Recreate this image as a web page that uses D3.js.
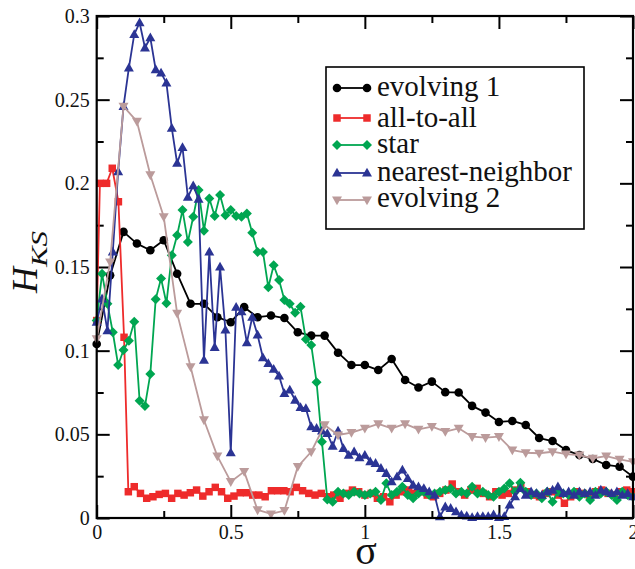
<!DOCTYPE html>
<html><head><meta charset="utf-8">
<script src="https://cdn.jsdelivr.net/npm/d3@7"></script>
<style>
body{margin:0;background:#fff}svg{display:block}
svg text{font-family:"Liberation Serif","Times New Roman",Tinos,"DejaVu Serif",serif !important}
</style>
</head><body>
<script>
// ---- data ----
const seriesNames = ["evolving 1","all-to-all","star","nearest-neighbor","evolving 2"];
const xTicks = [0,0.5,1,1.5,2];
const yTicks = [0,0.05,0.1,0.15,0.2,0.25,0.3];

const evolving1 = [0.104,0.145,0.171,0.164,0.16,0.166,0.146,0.128,0.128,0.12,0.117,0.126,0.12,0.121,0.1195,0.111,0.109,0.109,0.0988,0.0914,0.0914,0.0884,0.095,0.0825,0.078,0.0815,0.0752,0.075,0.067,0.063,0.0574,0.058,0.0556,0.0478,0.046,0.0406,0.0376,0.0353,0.0317,0.0307,0.0247];
const evolving2 = [0.107,0.153,0.246,0.237,0.205,0.18,0.1223,0.0904,0.0586,0.037,0.0217,0.0277,0.0048,0.0024,0.0044,0.0307,0.0396,0.0556,0.0496,0.051,0.0536,0.0562,0.0536,0.0562,0.053,0.0546,0.0516,0.0536,0.0486,0.048,0.0486,0.0406,0.039,0.0387,0.0396,0.0382,0.0376,0.0357,0.037,0.035,0.0336];
const nearest = [0.117,0.131,0.112,0.159,0.207,0.246,0.269,0.289,0.296,0.281,0.287,0.268,0.266,0.26,0.233,0.212,0.2215,0.1917,0.1986,0.1905,
  0.0944,0.159,0.102,0.150,0.1124,0.039,0.126,0.1233,0.1048,0.12,0.1094,0.0958,0.0924,0.0889,0.0849,0.0745,0.0765,0.0705,0.0661,0.0655,
  0.0546,0.0536,0.052,0.0506,0.043,0.052,0.0416,0.0376,0.0396,0.036,0.0376,
  0.0337,0.0327,0.0297,0.0267,0.0217,0.0247,0.0287,0.0237,0.0197,0.0187,0.0177,0.0157,0.0137,0.0008,0.0067,0.0058,0.0038,0.0018,0.0012,0.0004,
  0.001,0.001,0.001,0.002,0.0004,0.001,0.0078,0.0127,0.0177,0.0137,0.0157,0.0147,0.0137,0.0157,0.0167,0.0187,0.0147,0.0157,0.0137,0.0157,
  0.0147,0.0157,0.0137,0.0167,0.0157,0.0147,0.0157,0.0137,0.0147,0.0127];
const star = [0.118,0.146,0.128,0.111,0.0914,0.1004,0.106,0.1173,0.0701,0.0669,
  0.0861,0.1307,0.1432,0.1283,0.157,0.169,0.184,0.165,0.18,0.196,
  0.1717,0.191,0.1805,0.193,0.181,0.184,0.1805,0.18,0.182,0.1705,
  0.159,0.159,0.1379,0.151,0.1422,0.1303,0.128,0.1227,0.1263,0.1068,
  0.1034,0.0811,0.0456,0.011,0.0097,0.0157,0.0147,0.0137,0.0157,0.0147,
  0.0137,0.0147,0.0157,0.0108,0.0207,0.0137,0.0157,0.0187,0.0137,0.0118,
  0.0147,0.0157,0.0137,0.0147,0.0157,0.0167,0.0177,0.0147,0.0157,0.0147,
  0.0187,0.0147,0.0157,0.0137,0.0127,0.0157,0.0177,0.0207,0.0157,0.0211,
  0.0157,0.0137,0.0147,0.0118,0.0157,0.0097,0.0157,0.0147,0.0137,0.0157,
  0.0127,0.0147,0.0108,0.0157,0.0147,0.0157,0.0137,0.0108,0.0157,0.0137,0.0127];
const allHeadSigma = [0,0.012,0.037,0.058,0.081,0.102,0.118];
const allHead = [0.118,0.2,0.2,0.209,0.189,0.108,0.0157];
const allTail = [0.0187,0.0147,0.0118,0.0127,0.0141,0.0147,0.0118,0.0147,0.0137,0.0151,0.0167,0.0131,0.0157,0.0183,0.0157,0.0118,0.0131,0.0151,0.0151,0.0137,
  0.0137,0.0127,0.0163,0.0163,0.0163,0.0157,0.0183,0.0163,0.0147,0.0137,0.0147,0.0127,
  0.0137,0.0118,0.0147,0.0167,0.0157,0.0137,0.0147,0.0118,0.0127,0.0097,0.0137,0.0157,0.0167,0.0147,0.0157,0.0137,0.0127,0.0147,0.0167,0.0203,
  0.0157,0.0137,0.0167,0.0177,0.0147,0.0127,0.0157,0.0137,0.0147,0.0167,0.0187,0.0157,0.0137,0.0127,0.0147,0.0157,0.0137,0.0088,0.0127,0.0157,
  0.0147,0.0137,0.0157,0.0167,0.0147,0.0137,0.0157,0.0167,0.0157];

// ---- build point lists ----
const grid = (vals, step) => vals.map((v,i)=>({x:+(i*step).toFixed(4), y:v}));
const spread = (vals, a, b) => vals.map((v,i)=>({x:a + (b-a)*i/(vals.length-1), y:v}));
const sets = [
  {name:seriesNames[0], color:"#000000", sym:"circle", pts:grid(evolving1,0.05)},
  {name:seriesNames[1], color:"#ee2b2b", sym:"square", pts:allHead.map((v,i)=>({x:allHeadSigma[i],y:v})).concat(spread(allTail,0.14,2.0))},
  {name:seriesNames[2], color:"#00a651", sym:"diamond", pts:grid(star,0.02)},
  {name:seriesNames[3], color:"#2b3494", sym:"up", pts:grid(nearest,0.02)},
  {name:seriesNames[4], color:"#bb9b9b", sym:"down", pts:grid(evolving2,0.05)}
];

const W=635,H=569;
const L=96.7,R=633,T=16,B=518;
const x=d3.scaleLinear().domain([0,2]).range([L,R]);
const y=d3.scaleLinear().domain([0,0.3]).range([B,T]);
const font="'Liberation Serif','Times New Roman',serif";

const svg=d3.select("body").append("svg").attr("width",W).attr("height",H);

function symPath(kind){
  switch(kind){
    case "circle": return d3.symbol(d3.symbolCircle,58)();
    case "square": return d3.symbol(d3.symbolSquare,56)();
    case "diamond": return "M0,-5L5,0L0,5L-5,0Z";
    case "up": return "M0,-5.2L5,3.6L-5,3.6Z";
    case "down": return "M0,5.2L5,-3.6L-5,-3.6Z";
  }
}

// ---- axes (inward ticks on all 4 sides) ----
function axisG(gen, tx, ty){
  const g=svg.append("g").attr("transform",`translate(${tx},${ty})`).call(gen);
  g.attr("font-family",font);
  g.select(".domain").remove();
  g.selectAll(".tick line").attr("stroke","#000").attr("stroke-width",2);
  g.selectAll("text").attr("font-family",font).attr("font-size",20).attr("fill","#111");
  return g;
}
const xMinor=[0.25,0.75,1.25,1.75], yMinor=[0.025,0.075,0.125,0.175,0.225,0.275];
axisG(d3.axisBottom(x).tickValues(xTicks).tickSize(-13).tickPadding(7).tickFormat(d=>String(d)),0,B);
axisG(d3.axisBottom(x).tickValues(xMinor).tickSize(-7).tickFormat(""),0,B);
axisG(d3.axisTop(x).tickValues(xTicks).tickSize(-13).tickFormat(""),0,T);
axisG(d3.axisTop(x).tickValues(xMinor).tickSize(-7).tickFormat(""),0,T);
axisG(d3.axisLeft(y).tickValues(yTicks).tickSize(-13).tickPadding(7).tickFormat(d=>String(d)),L,0);
axisG(d3.axisLeft(y).tickValues(yMinor).tickSize(-7).tickFormat(""),L,0);
axisG(d3.axisRight(y).tickValues(yTicks).tickSize(-13).tickFormat(""),R,0);
axisG(d3.axisRight(y).tickValues(yMinor).tickSize(-7).tickFormat(""),R,0);

// ---- series ----
const line=d3.line().x(d=>x(d.x)).y(d=>y(d.y));
sets.forEach(s=>{
  const g=svg.append("g");
  g.append("path").attr("d",line(s.pts)).attr("fill","none").attr("stroke",s.color).attr("stroke-width",1.8).attr("stroke-linejoin","round");
  g.selectAll("path.m").data(s.pts).enter().append("path").attr("class","m")
    .attr("d",symPath(s.sym)).attr("transform",d=>`translate(${x(d.x)},${y(d.y)})`).attr("fill",s.color);
});

// frame
svg.append("rect").attr("x",L).attr("y",T).attr("width",R-L).attr("height",B-T)
  .attr("fill","none").attr("stroke","#000").attr("stroke-width",2.2);

// ---- legend ----
const lg=svg.append("g");
lg.append("rect").attr("x",326).attr("y",67).attr("width",258).attr("height",162)
  .attr("fill","#fff").attr("stroke","#000").attr("stroke-width",1.6);
const legY=[88,118,145,173,200], legBase=[96,127,153,181,207];
sets.forEach((s,i)=>{
  lg.append("line").attr("x1",337).attr("x2",367).attr("y1",legY[i]).attr("y2",legY[i]).attr("stroke",s.color).attr("stroke-width",1.8);
  [337,367].forEach(px=>lg.append("path").attr("d",symPath(s.sym)).attr("transform",`translate(${px},${legY[i]})`).attr("fill",s.color));
  lg.append("text").attr("x",377).attr("y",legBase[i]).text(s.name)
    .attr("font-family",font).attr("font-size",29).attr("fill","#111");
});

// ---- axis titles ----
const yt=svg.append("text").attr("transform","translate(37,293) rotate(-90)")
  .attr("font-family",font).attr("fill","#111");
yt.append("tspan").text("H").attr("font-style","italic").attr("font-size",36);
yt.append("tspan").text("KS").attr("font-style","italic").attr("font-size",24).attr("dy",10)
  .attr("textLength",36).attr("lengthAdjust","spacingAndGlyphs");

svg.append("text").attr("x",366).attr("y",564).attr("text-anchor","middle")
  .attr("font-family",font).attr("font-size",40).attr("fill","#111").text("σ");
</script>
</body></html>
